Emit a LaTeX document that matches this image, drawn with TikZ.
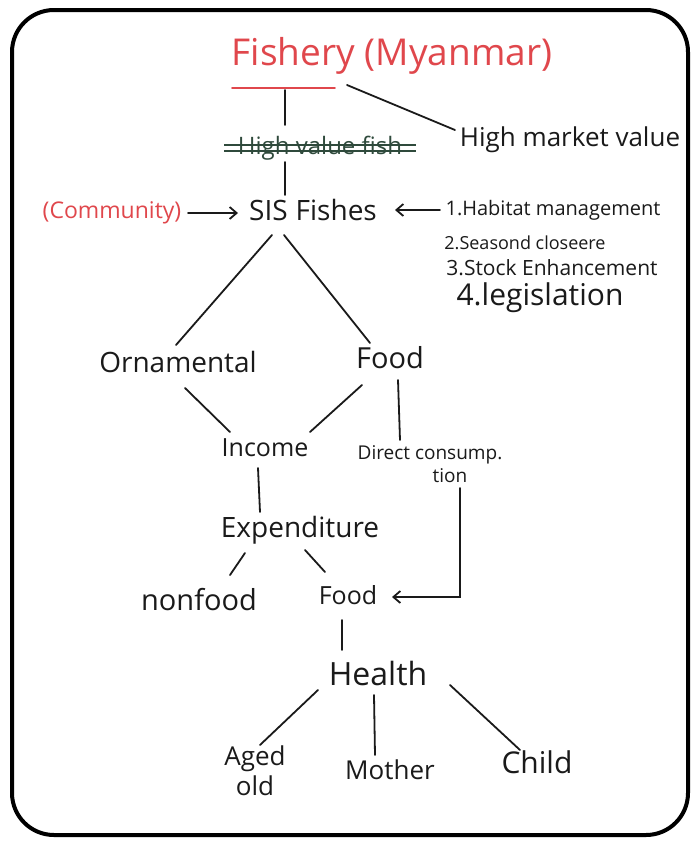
\documentclass[tikz,border=0pt]{standalone}
\usepackage{fontspec}
\setmainfont{Open Sans}
\usetikzlibrary{arrows.meta,calc}
\definecolor{ink}{HTML}{1A1A1A}
\definecolor{redink}{HTML}{E0474C}
\definecolor{strikeink}{HTML}{2F4A3C}
\tikzset{
  lbl/.style={inner sep=0pt, text=ink, anchor=center},
  link/.style={draw=ink, line width=1.8pt, line cap=round},
  arr/.style={link, -{Straight Barb[length=7pt,width=12pt,line width=1.8pt]}},
}
\newcommand{\fs}[1]{\fontsize{#1}{1.1\dimexpr #1\relax}\selectfont}
\begin{document}
\begin{tikzpicture}[x=1pt,y=-1pt]
  \useasboundingbox (0,0) rectangle (695,841);
  \fill[white] (0,0) rectangle (695,841);
  % outer frame
  \draw[line width=4pt, rounded corners=42pt, fill=white] (12,10) rectangle (688,835);

  % labels
  \node[lbl, text=redink] (fish) at (392,56) {\fs{37pt}Fishery (Myanmar)};
  \node[lbl, text=strikeink] (hvf) at (320,148) {\fs{24pt}High value fish};
  \node[lbl] (hmv) at (570,140) {\fs{26pt}High market value};
  \node[lbl] (sis) at (313,210) {\fs{28pt}SIS\hspace{8pt}Fishes};
  \node[lbl, text=redink] (comm) at (112,213) {\fs{23pt}(Community)};
  \node[lbl] (hab) at (553,210) {\fs{20pt}1.Habitat management};
  \node[lbl] (l2) at (525,243) {\fs{18pt}2.Seasond closeere};
  \node[lbl] (l3) at (552,268) {\fs{21pt}3.Stock Enhancement};
  \node[lbl] (l4) at (540,298) {\fs{30pt}4.legislation};
  \node[lbl] (orn) at (178,362) {\fs{28pt}Ornamental};
  \node[lbl] (food1) at (390,358) {\fs{29pt}Food};
  \node[lbl] (inc) at (265,448) {\fs{25pt}Income};
  \node[lbl, align=center, font=\fs{19pt}] (dc) at (430,464) {Direct consump.\\[2pt]\hspace*{40pt}tion};
  \node[lbl] (exp) at (300,530) {\fs{28pt}Expenditure};
  \node[lbl] (nonfood) at (199,600) {\fs{29pt}nonfood};
  \node[lbl] (food2) at (348,595) {\fs{25pt}Food};
  \node[lbl] (health) at (378,673) {\fs{32pt}Health};
  \node[lbl, align=center, font=\fs{26pt}] (aged) at (255,771) {Aged\\[1pt]old};
  \node[lbl] (mother) at (390,770) {\fs{26pt}Mother};
  \node[lbl] (child) at (537,762) {\fs{30pt}Child};

  % underline and strike-through
  \draw[draw=redink, line width=1.8pt, line cap=round] ($(fish)+(-160,32)$) -- ($(fish)+(-57,32)$);
  \draw[draw=strikeink, line width=1.8pt] ($(hvf)+(-96,-3)$) -- ($(hvf)+(96,-3)$);
  \draw[draw=strikeink, line width=1.8pt] ($(hvf)+(-96,3)$) -- ($(hvf)+(96,3)$);

  % connectors
  \draw[link] ($(fish)+(-107,34)$) -- ($(hvf)+(-35,-23)$);
  \draw[link] ($(fish)+(-45,29)$) -- ($(hmv)+(-115,-10)$);
  \draw[link] ($(hvf)+(-35,14)$) -- ($(sis)+(-28,-15)$);
  \draw[arr] ($(comm)+(76,0)$) -- ($(sis)+(-75,3)$);
  \draw[arr] ($(hab)+(-113,0)$) -- ($(sis)+(82,0)$);
  \draw[link] ($(sis)+(-41,25)$) -- ($(orn)+(-2,-17)$);
  \draw[link] ($(sis)+(-29,25)$) -- ($(food1)+(-20,-15)$);
  \draw[link] ($(orn)+(7,26)$) -- ($(inc)+(-35,-16)$);
  \draw[link] ($(food1)+(-28,27)$) -- ($(inc)+(45,-16)$);
  \draw[link] ($(food1)+(8,22)$) -- ($(dc)+(-30,-24)$);
  \draw[link] ($(inc)+(-7,20)$) -- ($(exp)+(-40,-18)$);
  \draw[link] ($(exp)+(-55,23)$) -- ($(nonfood)+(31,-25)$);
  \draw[link] ($(exp)+(5,20)$) -- ($(food2)+(-23,-23)$);
  \draw[arr] ($(dc)+(30,24)$) |- ($(food2)+(44,2)$);
  \draw[link] ($(food2)+(-6,25)$) -- ($(health)+(-36,-23)$);
  \draw[link] ($(health)+(-60,17)$) -- ($(aged)+(5,-26)$);
  \draw[link] ($(health)+(-4,22)$) -- ($(mother)+(-15,-15)$);
  \draw[link] ($(health)+(72,12)$) -- ($(child)+(-17,-12)$);
\end{tikzpicture}
\end{document}
